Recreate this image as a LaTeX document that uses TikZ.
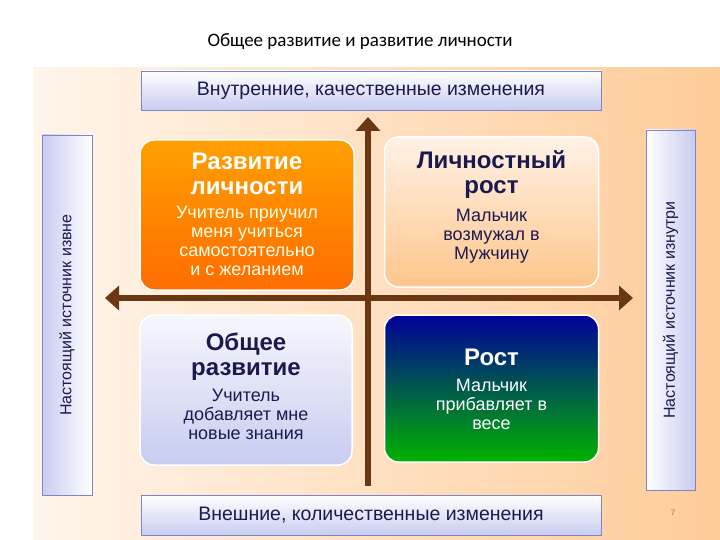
\documentclass[tikz,border=0pt]{standalone}
\usepackage{fontspec}
\setmainfont{Liberation Sans}
\newfontfamily\calib{Carlito}
\usetikzlibrary{arrows.meta}
\definecolor{navy}{HTML}{1A1A50}
\definecolor{barc}{HTML}{C8CCF0}
\definecolor{barb}{HTML}{7C86C8}
\definecolor{arrc}{HTML}{6B3612}
\begin{document}
\begin{tikzpicture}[x=1pt,y=-1pt,
  bar/.style={draw=barb,line width=0.8pt,top color=white,bottom color=barc,inner sep=0pt},
  quad/.style={rounded corners=14pt,minimum width=214pt,minimum height=150pt,draw=white,line width=1.5pt,inner sep=0pt,align=center},
  ttl/.style={font=\bfseries\fontsize{24}{25}\selectfont},
  bdy/.style={font=\fontsize{18}{19}\selectfont},
  axis/.style={draw=arrc,line width=6pt}]
\useasboundingbox (0,0) rectangle (720,540);
\fill[white] (0,0) rectangle (720,540);
\node[font=\calib\fontsize{19}{20}\selectfont] (title) at (360,42) {Общее развитие и развитие личности};
\shade[left color=orange!8,right color=orange!40] (33,68) rectangle (720,540);
\node[bar,minimum width=460pt,minimum height=39pt,font=\fontsize{19.5}{20}\selectfont,text=navy] (top) at (371,90.5) {Внутренние, качественные изменения};
\node[bar,minimum width=460pt,minimum height=40pt,font=\fontsize{19.5}{20}\selectfont,text=navy] (bot) at (371,515) {Внешние, количественные изменения};
\node[draw=barb,line width=0.8pt,left color=barc,right color=white,minimum width=50pt,minimum height=360pt,inner sep=0pt] (lb) at (67,315) {};
\node[rotate=90,font=\fontsize{16}{17}\selectfont,text=navy] (lbt) at (67,315) {Настоящий источник извне};
\node[draw=barb,line width=0.8pt,left color=white,right color=barc,minimum width=49pt,minimum height=360pt,inner sep=0pt] (rb) at (670.5,310) {};
\node[rotate=90,font=\fontsize{16}{17}\selectfont,text=navy] (rbt) at (670.5,310) {Настоящий источник изнутри};
\coordinate (hl) at (105,298); \coordinate (hr) at (633,298);
\coordinate (vt) at (368,117); \coordinate (vb) at (368,486);
\draw[axis,{Triangle[length=14pt,width=24pt]}-{Triangle[length=14pt,width=24pt]}] (hl) -- (hr);
\draw[axis,-{Triangle[length=14pt,width=24pt]}] (vb) -- (vt);
\node[quad,top color=orange!75!yellow,bottom color=orange!85!red] (tl) at (247,215) {};
\node[ttl,text=white,align=center] (tlt) at (247,174) {Развитие\\личности};
\node[bdy,text=yellow!10,align=center] (tlb) at (247,241) {Учитель приучил\\меня учиться\\самостоятельно\\и с желанием};
\node[quad,top color=orange!10,bottom color=orange!45] (tr) at (491.5,212) {};
\node[ttl,text=navy,align=center] (trt) at (491.5,175) {Личностный\\рост};
\node[bdy,text=navy,align=center] (trb) at (491.5,236) {Мальчик\\возмужал в\\Мужчину};
\node[quad,top color=white!85!barc,bottom color=barc,minimum width=212pt] (bl) at (246,390) {};
\node[ttl,text=navy,align=center] (blt) at (246,357) {Общее\\развитие};
\node[bdy,text=navy,align=center] (blb) at (246,414) {Учитель\\добавляет мне\\новые знания};
\node[quad,top color=blue!60!black,bottom color=green!70!black,minimum height=147pt] (br) at (491.5,388.5) {};
\node[ttl,text=white] (brt) at (491.5,357) {Рост};
\node[bdy,text=white,align=center] (brb) at (491.5,404) {Мальчик\\прибавляет в\\весе};
\node[font=\fontsize{8}{9}\selectfont,text=gray] (pn) at (673,513) {7};
\end{tikzpicture}
\end{document}
